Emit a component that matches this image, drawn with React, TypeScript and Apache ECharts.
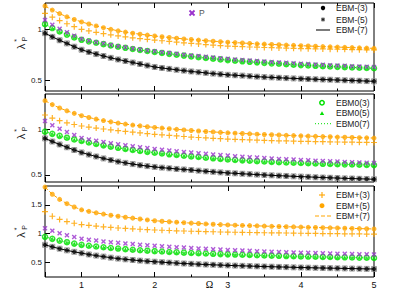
import React, { useEffect, useRef } from 'react';
import * as echarts from 'echarts';

// Ω values (abscissa)
const omega = [
  0.5, 0.6, 0.7, 0.8, 0.9, 1.0, 1.1, 1.2, 1.3, 1.4,
  1.5, 1.6, 1.7, 1.8, 1.9, 2.0, 2.1, 2.2, 2.3, 2.4,
  2.5, 2.6, 2.7, 2.8, 2.9, 3.0, 3.1, 3.2, 3.3, 3.4,
  3.5, 3.6, 3.7, 3.8, 3.9, 4.0, 4.1, 4.2, 4.3, 4.4,
  4.5, 4.6, 4.7, 4.8, 4.9, 5.0,
];

// P (same reference values in every panel)
const pValues = [
  1.090, 1.045, 1.005, 0.970, 0.936, 0.905, 0.889, 0.874, 0.860, 0.847,
  0.835, 0.824, 0.813, 0.803, 0.794, 0.785, 0.776, 0.768, 0.760, 0.752,
  0.745, 0.738, 0.731, 0.724, 0.718, 0.712, 0.706, 0.700, 0.695, 0.690,
  0.685, 0.681, 0.676, 0.672, 0.668, 0.664, 0.660, 0.656, 0.653, 0.649,
  0.646, 0.643, 0.640, 0.637, 0.635, 0.632,
];

// Panel 1
const top_ebmMinus = [
  0.962, 0.926, 0.893, 0.862, 0.830, 0.800, 0.778, 0.758, 0.739, 0.721,
  0.705, 0.690, 0.675, 0.661, 0.646, 0.632, 0.622, 0.613, 0.604, 0.596,
  0.588, 0.581, 0.574, 0.567, 0.561, 0.555, 0.551, 0.547, 0.542, 0.537,
  0.533, 0.530, 0.526, 0.523, 0.520, 0.517, 0.514, 0.512, 0.509, 0.507,
  0.504, 0.502, 0.499, 0.497, 0.494, 0.492,
];
const top_ebmZero = [
  1.050, 1.012, 0.978, 0.948, 0.921, 0.897, 0.882, 0.868, 0.855, 0.842,
  0.830, 0.819, 0.808, 0.798, 0.788, 0.778, 0.769, 0.760, 0.751, 0.743,
  0.735, 0.727, 0.720, 0.713, 0.706, 0.699, 0.693, 0.687, 0.682, 0.677,
  0.672, 0.667, 0.663, 0.659, 0.654, 0.650, 0.647, 0.643, 0.640, 0.636,
  0.633, 0.630, 0.627, 0.624, 0.622, 0.619,
];
const top_ebmPlus5 = [
  1.228, 1.188, 1.153, 1.122, 1.096, 1.072, 1.052, 1.033, 1.016, 1.000,
  0.985, 0.973, 0.962, 0.952, 0.943, 0.935, 0.927, 0.920, 0.913, 0.906,
  0.900, 0.895, 0.889, 0.884, 0.879, 0.874, 0.870, 0.866, 0.862, 0.858,
  0.855, 0.852, 0.849, 0.846, 0.843, 0.840, 0.837, 0.834, 0.831, 0.829,
  0.826, 0.824, 0.821, 0.819, 0.816, 0.814,
];
const top_ebmPlus3 = [
  1.156, 1.118, 1.085, 1.054, 1.026, 1.000, 0.984, 0.970, 0.957, 0.946,
  0.935, 0.926, 0.917, 0.909, 0.902, 0.895, 0.888, 0.881, 0.874, 0.868,
  0.862, 0.857, 0.851, 0.846, 0.841, 0.836, 0.833, 0.830, 0.827, 0.825,
  0.822, 0.820, 0.818, 0.816, 0.814, 0.812, 0.811, 0.809, 0.808, 0.806,
  0.805, 0.804, 0.802, 0.801, 0.799, 0.798,
];

// Panel 2
const mid_ebmMinus = [
  0.900, 0.866, 0.834, 0.803, 0.773, 0.746, 0.723, 0.702, 0.681, 0.663,
  0.646, 0.632, 0.619, 0.607, 0.597, 0.588, 0.580, 0.573, 0.566, 0.560,
  0.554, 0.547, 0.540, 0.534, 0.528, 0.522, 0.518, 0.513, 0.509, 0.504,
  0.500, 0.496, 0.492, 0.489, 0.485, 0.482, 0.479, 0.475, 0.472, 0.469,
  0.466, 0.463, 0.461, 0.458, 0.456, 0.453,
];
const mid_ebmZero = [
  0.974, 0.950, 0.928, 0.908, 0.889, 0.872, 0.855, 0.839, 0.824, 0.810,
  0.797, 0.785, 0.774, 0.763, 0.753, 0.744, 0.735, 0.726, 0.718, 0.710,
  0.703, 0.696, 0.689, 0.682, 0.676, 0.670, 0.665, 0.660, 0.655, 0.651,
  0.647, 0.643, 0.640, 0.637, 0.634, 0.631, 0.628, 0.625, 0.622, 0.620,
  0.618, 0.616, 0.614, 0.612, 0.610, 0.608,
];
const mid_ebmPlus5 = [
  1.313, 1.270, 1.233, 1.202, 1.174, 1.149, 1.129, 1.111, 1.095, 1.081,
  1.068, 1.057, 1.046, 1.037, 1.028, 1.020, 1.013, 1.006, 0.999, 0.993,
  0.987, 0.981, 0.976, 0.971, 0.966, 0.961, 0.957, 0.954, 0.950, 0.946,
  0.943, 0.940, 0.937, 0.934, 0.931, 0.928, 0.925, 0.923, 0.920, 0.918,
  0.915, 0.913, 0.911, 0.908, 0.906, 0.904,
];
const mid_ebmPlus3 = [
  1.156, 1.122, 1.094, 1.071, 1.052, 1.036, 1.024, 1.013, 1.003, 0.994,
  0.985, 0.976, 0.968, 0.960, 0.952, 0.945, 0.939, 0.933, 0.927, 0.921,
  0.915, 0.910, 0.906, 0.901, 0.897, 0.893, 0.890, 0.887, 0.884, 0.881,
  0.878, 0.876, 0.874, 0.872, 0.870, 0.868, 0.867, 0.865, 0.864, 0.862,
  0.861, 0.860, 0.859, 0.857, 0.856, 0.855,
];

// Panel 3
const bot_ebmMinus = [
  0.800, 0.765, 0.733, 0.704, 0.678, 0.655, 0.632, 0.612, 0.594, 0.576,
  0.560, 0.547, 0.535, 0.524, 0.514, 0.505, 0.497, 0.489, 0.481, 0.474,
  0.468, 0.462, 0.456, 0.451, 0.446, 0.441, 0.437, 0.433, 0.429, 0.425,
  0.421, 0.418, 0.414, 0.411, 0.407, 0.404, 0.401, 0.398, 0.395, 0.393,
  0.390, 0.388, 0.385, 0.383, 0.380, 0.378,
];
const bot_ebmZero = [
  0.940, 0.905, 0.874, 0.847, 0.822, 0.800, 0.785, 0.771, 0.758, 0.746,
  0.735, 0.725, 0.715, 0.706, 0.698, 0.690, 0.683, 0.676, 0.670, 0.664,
  0.658, 0.653, 0.648, 0.643, 0.638, 0.634, 0.630, 0.626, 0.622, 0.618,
  0.614, 0.611, 0.608, 0.604, 0.601, 0.598, 0.595, 0.592, 0.589, 0.587,
  0.584, 0.582, 0.579, 0.577, 0.574, 0.572,
];
const bot_ebmPlus5 = [
  1.810, 1.685, 1.595, 1.520, 1.462, 1.413, 1.385, 1.360, 1.338, 1.318,
  1.300, 1.283, 1.267, 1.252, 1.236, 1.222, 1.213, 1.204, 1.196, 1.188,
  1.180, 1.173, 1.166, 1.160, 1.154, 1.148, 1.144, 1.140, 1.136, 1.132,
  1.128, 1.124, 1.121, 1.117, 1.114, 1.110, 1.107, 1.104, 1.100, 1.097,
  1.094, 1.091, 1.087, 1.084, 1.081, 1.078,
];
const bot_ebmPlus3 = [
  1.380, 1.300, 1.245, 1.207, 1.178, 1.155, 1.141, 1.128, 1.116, 1.105,
  1.095, 1.087, 1.080, 1.073, 1.066, 1.060, 1.055, 1.051, 1.046, 1.042,
  1.038, 1.035, 1.032, 1.029, 1.025, 1.022, 1.020, 1.018, 1.016, 1.014,
  1.012, 1.010, 1.008, 1.007, 1.005, 1.003, 1.001, 0.999, 0.998, 0.996,
  0.995, 0.993, 0.992, 0.991, 0.989, 0.988,
];

const panels = [
  { minus: top_ebmMinus, zero: top_ebmZero, plus5: top_ebmPlus5, plus3: top_ebmPlus3 },
  { minus: mid_ebmMinus, zero: mid_ebmZero, plus5: mid_ebmPlus5, plus3: mid_ebmPlus3 },
  { minus: bot_ebmMinus, zero: bot_ebmZero, plus5: bot_ebmPlus5, plus3: bot_ebmPlus3 },
];

const xTickLabels = ['1', '2', '3', '4', '5'];
const xTitle = 'Ω';

const BLACK = '#000000';
const GREEN = '#00e000';
const ORANGE = '#ffa500';
const PURPLE = '#9a32cd';
const SANS = 'Liberation Sans, Arial, sans-serif';
const SERIF = 'Liberation Serif, Times New Roman, serif';

const PLUS = 'path://M4,0H6V4H10V6H6V10H4V6H0V4H4Z';
const CROSS = 'path://M2,0L5,3L8,0L10,2L7,5L10,8L8,10L5,7L2,10L0,8L3,5L0,2Z';

const pairs = (ys: number[]) => omega.map((x, i) => [x, ys[i]]);

export default function App() {
  const ref = useRef<HTMLDivElement>(null);

  useEffect(() => {
    if (!ref.current) return;
    const chart = echarts.init(ref.current, undefined, { renderer: 'svg' });

    const gridDefs = [
      { left: 45, top: 3, width: 329, height: 88 },
      { left: 45, top: 94, width: 329, height: 88 },
      { left: 45, top: 186, width: 329, height: 91 },
    ];
    const yRanges = [
      [0.397, 1.257],
      [0.423, 1.386],
      [0.238, 1.829],
    ];

    const grid = gridDefs.map((g) => ({
      ...g,
      show: true,
      borderColor: '#000',
      borderWidth: 1,
      backgroundColor: 'transparent',
      containLabel: false,
      outerBoundsMode: 'none',
    }));

    const xAxis: any[] = [];
    const yAxis: any[] = [];
    gridDefs.forEach((_, g) => {
      const base = {
        type: 'value',
        gridIndex: g,
        min: 0.5,
        max: 5,
        axisLine: { show: false, onZero: false },
        splitLine: { show: false },
      };
      const isLast = g === 2;
      // bottom major
      xAxis.push({
        ...base,
        position: 'bottom',
        minInterval: 1,
        maxInterval: 1,
        axisTick: { inside: true, length: 5, lineStyle: { color: BLACK, width: 1 } },
        axisLabel: isLast
          ? {
              show: true,
              margin: 3,
              fontSize: 9,
              color: '#111',
              fontFamily: SANS,
              formatter: (v: number) => {
                const s = String(v);
                return xTickLabels.includes(s) ? s : '';
              },
            }
          : { show: false },
      });
      // bottom minor
      xAxis.push({
        ...base,
        position: 'bottom',
        interval: 1,
        axisTick: { inside: true, length: 2.5, lineStyle: { color: BLACK, width: 1 } },
        axisLabel: { show: false },
      });
      // top major
      xAxis.push({
        ...base,
        position: 'top',
        minInterval: 1,
        maxInterval: 1,
        axisTick: { inside: true, length: 5, lineStyle: { color: BLACK, width: 1 } },
        axisLabel: { show: false },
      });
      // top minor
      xAxis.push({
        ...base,
        position: 'top',
        interval: 1,
        axisTick: { inside: true, length: 2.5, lineStyle: { color: BLACK, width: 1 } },
        axisLabel: { show: false },
      });

      yAxis.push({
        type: 'value',
        gridIndex: g,
        min: yRanges[g][0],
        max: yRanges[g][1],
        minInterval: 0.5,
        maxInterval: 0.5,
        axisLine: { show: false, onZero: false },
        splitLine: { show: false },
        axisTick: { inside: true, length: 5, lineStyle: { color: BLACK, width: 1 } },
        axisLabel: {
          margin: 3,
          fontSize: 8,
          color: '#222',
          fontFamily: SANS,
          showMinLabel: false,
          showMaxLabel: false,
          formatter: (v: number) => (Math.abs(v * 2 - Math.round(v * 2)) < 1e-6 ? String(v) : ''),
        },
      });
    });

    const series: any[] = [];
    panels.forEach((p, g) => {
      const xi = g * 4;
      const yi = g;
      const common = { xAxisIndex: xi, yAxisIndex: yi, silent: true };
      series.push({
        ...common,
        name: 'EBM-(7)',
        type: 'line',
        data: pairs(p.minus),
        showSymbol: false,
        symbol: 'none',
        lineStyle: { color: BLACK, width: 1 },
      });
      series.push({
        ...common,
        name: 'EBM-(5)',
        type: 'scatter',
        data: pairs(p.minus),
        symbol: 'rect',
        symbolSize: 5,
        itemStyle: { color: 'rgba(0,0,0,0)', borderColor: '#888', borderWidth: 1 },
      });
      series.push({
        ...common,
        name: 'EBM-(3)',
        type: 'scatter',
        data: pairs(p.minus),
        symbol: 'circle',
        symbolSize: 4.5,
        itemStyle: { color: BLACK },
      });
      series.push({
        ...common,
        name: 'EBM0(7)',
        type: 'line',
        data: pairs(p.zero),
        showSymbol: false,
        symbol: 'none',
        lineStyle: { color: GREEN, width: 1, type: [1, 2] },
      });
      series.push({
        ...common,
        name: 'EBM0(5)',
        type: 'scatter',
        data: pairs(p.zero),
        symbol: 'triangle',
        symbolSize: 4,
        itemStyle: { color: GREEN },
      });
      series.push({
        ...common,
        name: 'EBM0(3)',
        type: 'scatter',
        data: pairs(p.zero),
        symbol: 'circle',
        symbolSize: 5,
        itemStyle: { color: 'rgba(0,0,0,0)', borderColor: GREEN, borderWidth: 1.5 },
      });
      series.push({
        ...common,
        name: 'P',
        type: 'scatter',
        data: pairs(pValues),
        symbol: CROSS,
        symbolSize: 5,
        itemStyle: { color: PURPLE },
      });
      series.push({
        ...common,
        name: 'EBM+(7)',
        type: 'line',
        data: pairs(p.plus5),
        showSymbol: false,
        symbol: 'none',
        lineStyle: { color: ORANGE, width: 1, type: [4, 2] },
      });
      series.push({
        ...common,
        name: 'EBM+(5)',
        type: 'scatter',
        data: pairs(p.plus5),
        symbol: 'circle',
        symbolSize: 5,
        itemStyle: { color: ORANGE },
      });
      series.push({
        ...common,
        name: 'EBM+(3)',
        type: 'scatter',
        data: pairs(p.plus3),
        symbol: PLUS,
        symbolSize: 6,
        itemStyle: { color: ORANGE, opacity: 0.85 },
      });
    });

    const txt = (x: number, y: number, text: string, extra: any = {}) => ({
      type: 'text',
      x,
      y,
      silent: true,
      style: {
        text,
        fill: '#222',
        font: `8.5px ${SANS}`,
        textVerticalAlign: 'middle',
        ...extra,
      },
    });

    const yLabel = (cy: number) => ({
      type: 'group',
      x: 21,
      y: cy,
      rotation: Math.PI / 2,
      silent: true,
      children: [
        { type: 'text', x: 0, y: 0, style: { text: 'λ', fill: '#222', font: `11px ${SANS}`, textAlign: 'center', textVerticalAlign: 'middle' } },
        { type: 'text', x: 6, y: -5, style: { text: '*', fill: '#222', font: `7px ${SANS}`, textAlign: 'center', textVerticalAlign: 'middle' } },
        { type: 'text', x: 7.5, y: 3, style: { text: 'P', fill: '#222', font: `7px ${SANS}`, textAlign: 'center', textVerticalAlign: 'middle' } },
      ],
    });

    const graphic: any[] = [
      yLabel(46.5),
      yLabel(136.5),
      yLabel(235),
      // x-axis title
      txt(209.5, 284.5, xTitle, { fill: '#000', font: `10px ${SERIF}`, textAlign: 'center' }),
      // P label
      { type: 'line', silent: true, shape: { x1: 189.5, y1: 10.5, x2: 194.5, y2: 15.5 }, style: { stroke: PURPLE, lineWidth: 1.8 } },
      { type: 'line', silent: true, shape: { x1: 189.5, y1: 15.5, x2: 194.5, y2: 10.5 }, style: { stroke: PURPLE, lineWidth: 1.8 } },
      txt(199, 13, 'P', { fill: '#555' }),
      // Panel 1 legend
      { type: 'circle', silent: true, shape: { cx: 323, cy: 8, r: 2.2 }, style: { fill: BLACK } },
      txt(336, 8, 'EBM-(3)'),
      { type: 'rect', silent: true, shape: { x: 321.5, y: 18, width: 3, height: 3 }, style: { fill: '#222', stroke: '#888', lineWidth: 1 } },
      txt(336, 19.5, 'EBM-(5)'),
      { type: 'line', silent: true, shape: { x1: 316, y1: 30, x2: 330, y2: 30 }, style: { stroke: '#333', lineWidth: 1.3 } },
      txt(336, 30, 'EBM-(7)'),
      // Panel 2 legend
      { type: 'circle', silent: true, shape: { cx: 322, cy: 102.7, r: 2.2 }, style: { fill: 'none', stroke: GREEN, lineWidth: 1.5 } },
      txt(336, 102.7, 'EBM0(3)'),
      { type: 'polygon', silent: true, shape: { points: [[322, 111.3], [324.2, 115], [319.8, 115]] }, style: { fill: GREEN } },
      txt(336, 113.3, 'EBM0(5)'),
      { type: 'line', silent: true, shape: { x1: 315, y1: 123.7, x2: 331, y2: 123.7 }, style: { stroke: GREEN, lineWidth: 1, lineDash: [1, 2] } },
      txt(336, 123.7, 'EBM0(7)'),
      // Panel 3 legend
      { type: 'line', silent: true, shape: { x1: 319, y1: 195, x2: 325, y2: 195 }, style: { stroke: ORANGE, lineWidth: 1.1 } },
      { type: 'line', silent: true, shape: { x1: 322, y1: 192, x2: 322, y2: 198 }, style: { stroke: ORANGE, lineWidth: 1.1 } },
      txt(336, 195, 'EBM+(3)'),
      { type: 'circle', silent: true, shape: { cx: 322, cy: 205.7, r: 2.5 }, style: { fill: ORANGE } },
      txt(336, 205.7, 'EBM+(5)'),
      { type: 'line', silent: true, shape: { x1: 315, y1: 216, x2: 331, y2: 216 }, style: { stroke: ORANGE, lineWidth: 1, lineDash: [4, 2] } },
      txt(336, 216, 'EBM+(7)'),
    ];

    chart.setOption({
      animation: false,
      backgroundColor: '#fff',
      grid,
      xAxis,
      yAxis,
      series,
      graphic,
    });

    return () => chart.dispose();
  }, []);

  return (
    <div
      ref={ref}
      style={{ position: 'fixed', left: 0, top: 0, width: 411, height: 291, background: '#fff' }}
    />
  );
}
